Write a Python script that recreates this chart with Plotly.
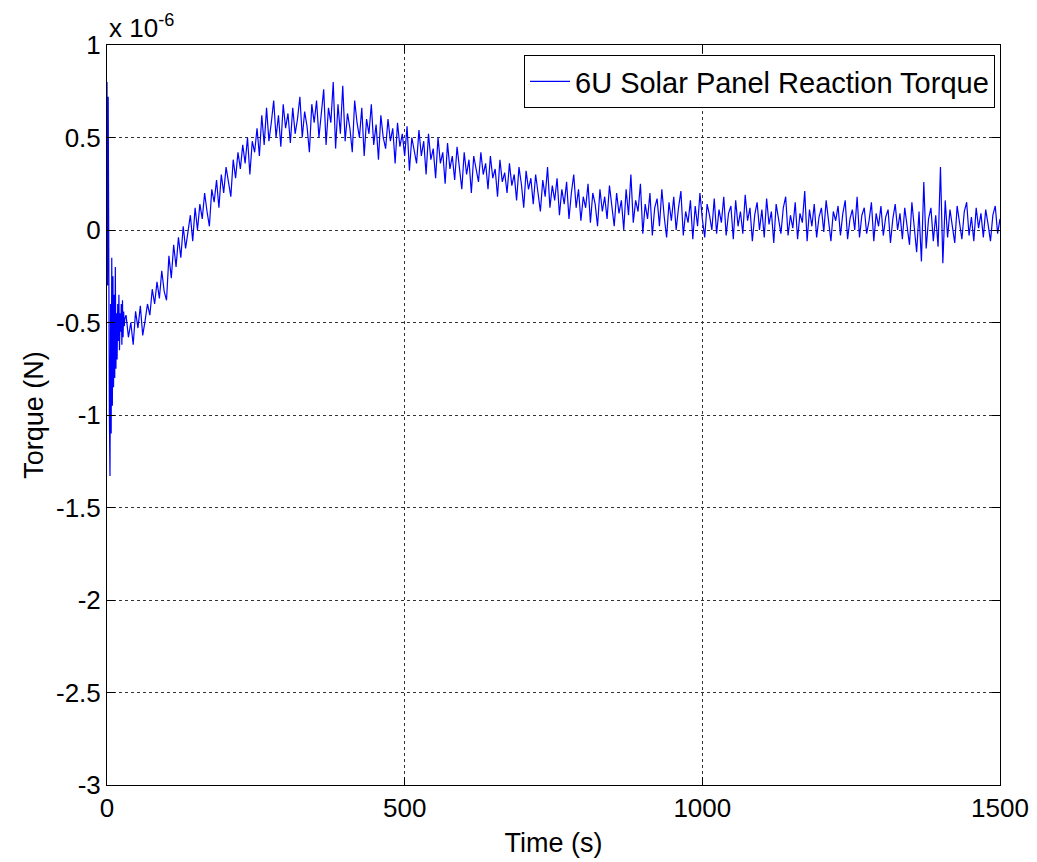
import plotly.graph_objects as go

# Time (s): dense start (1 s), then 4 s steps; torque in units of 1e-6 N
t_start = list(range(0, 31))
torque_start = [0.80, -0.30, 0.72, -0.60, -1.00, -1.33, -0.40, -1.10, -0.15, -0.95,
                -0.25, -0.85, -0.35, -0.80, -0.20, -0.75, -0.45, -0.70, -0.40, -0.60,
                -0.35, -0.65, -0.45, -0.55, -0.40, -0.62, -0.38, -0.58, -0.44, -0.52,
                -0.48]

t_main = list(range(32, 1501, 4))
torque_main = [
    -0.46, -0.58, -0.50, -0.62, -0.44, -0.53, -0.41, -0.57, -0.49, -0.40,
    -0.46, -0.32, -0.40, -0.28, -0.37, -0.22, -0.33, -0.38, -0.14, -0.26,
    -0.08, -0.20, -0.04, -0.15, 0.02, -0.10, -0.01, 0.08, -0.06, 0.12,
    0.00, 0.14, 0.06, 0.20, 0.10, 0.02, 0.22, 0.15, 0.27, 0.12,
    0.30, 0.20, 0.34, 0.25, 0.18, 0.38, 0.28, 0.42, 0.33, 0.46,
    0.36, 0.50, 0.30, 0.48, 0.42, 0.55, 0.40, 0.62, 0.46, 0.66,
    0.48, 0.58, 0.70, 0.50, 0.62, 0.45, 0.68, 0.55, 0.63, 0.47,
    0.66, 0.52, 0.60, 0.72, 0.50, 0.64, 0.56, 0.42, 0.68, 0.58,
    0.70, 0.50, 0.62, 0.76, 0.46, 0.66, 0.58, 0.80, 0.44, 0.68,
    0.52, 0.78, 0.48, 0.63, 0.55, 0.42, 0.70, 0.58, 0.50, 0.66,
    0.40, 0.60, 0.52, 0.68, 0.46, 0.57, 0.38, 0.62, 0.50, 0.44,
    0.60, 0.48, 0.55, 0.36, 0.58, 0.45, 0.52, 0.40, 0.56, 0.32,
    0.50, 0.42, 0.36, 0.54, 0.40, 0.48, 0.30, 0.52, 0.38, 0.44,
    0.28, 0.50, 0.36, 0.42, 0.25, 0.47, 0.33, 0.40, 0.27, 0.45,
    0.34, 0.22, 0.42, 0.30, 0.38, 0.20, 0.40, 0.32, 0.26, 0.42,
    0.30, 0.36, 0.22, 0.40, 0.28, 0.33, 0.18, 0.38, 0.26, 0.31,
    0.20, 0.36, 0.24, 0.30, 0.16, 0.34, 0.25, 0.12, 0.32, 0.22,
    0.28, 0.14, 0.30, 0.20, 0.10, 0.27, 0.18, 0.34, 0.12, 0.24,
    0.16, 0.28, 0.08, 0.22, 0.14, 0.26, 0.06, 0.20, 0.30, 0.12,
    0.22, 0.05, 0.18, 0.12, 0.25, 0.04, 0.20, 0.14, 0.02, 0.22,
    0.10, 0.18, 0.06, 0.24, 0.12, 0.02, 0.20, 0.09, 0.16, 0.00,
    0.22, 0.08, 0.30, 0.04, 0.16, 0.10, 0.25, -0.02, 0.14, 0.06,
    0.20, -0.03, 0.12, 0.17, 0.02, 0.22, 0.07, -0.04, 0.15, 0.05,
    0.18, 0.00, 0.12, 0.21, -0.03, 0.10, 0.04, 0.16, -0.05, 0.13,
    0.02, 0.20, 0.06, -0.04, 0.14, 0.08, 0.00, 0.17, -0.02, 0.11,
    0.04, 0.18, -0.03, 0.09, 0.13, -0.05, 0.16, 0.02, 0.10, -0.02,
    0.19, 0.05, 0.12, -0.06, 0.08, 0.15, 0.00, 0.11, -0.04, 0.17,
    0.03, 0.10, -0.07, 0.14, 0.06, -0.02, 0.12, 0.18, -0.03, 0.08,
    0.01, 0.15, -0.05, 0.09, 0.04, 0.21, -0.06, 0.11, 0.02, 0.14,
    -0.04, 0.07, 0.12, -0.01, 0.16, 0.03, -0.06, 0.10, 0.05, 0.13,
    -0.03, 0.09, 0.16, -0.05, 0.06, 0.11, 0.00, 0.18, -0.04, 0.08,
    0.12, -0.02, 0.05, 0.15, -0.06, 0.09, 0.02, 0.13, -0.03, 0.07,
    0.11, -0.07, 0.06, 0.14, 0.00, 0.09, -0.05, 0.12, 0.03, -0.08,
    0.15, 0.02, -0.12, 0.10, -0.17, 0.26, -0.10, 0.06, 0.12, -0.06,
    0.08, -0.09, 0.34, -0.18, 0.16, -0.04, 0.11, 0.02, -0.07, 0.13,
    0.04, -0.05, 0.10, 0.15, -0.03, 0.07, -0.06, 0.12, 0.01, 0.09,
    -0.04, 0.11, 0.03, -0.06, 0.08, 0.13, -0.02, 0.06,
]

time_s = t_start + t_main
torque_e6 = torque_start + torque_main
assert len(t_main) == len(torque_main)

x_ticks = [0, 500, 1000, 1500]
y_ticks = [1, 0.5, 0, -0.5, -1, -1.5, -2, -2.5, -3]
y_tick_text = ["1", "0.5", "0", "-0.5", "-1", "-1.5", "-2", "-2.5", "-3"]

font_family = "Liberation Sans, Arial, sans-serif"

fig = go.Figure()
fig.add_trace(go.Scatter(
    x=time_s, y=torque_e6, mode="lines",
    line=dict(color="#0000ff", width=1.2),
    name="6U Solar Panel Reaction Torque",
))

axis_common = dict(
    showline=True, linecolor="black", linewidth=1, mirror="ticks",
    ticks="inside", ticklen=8, tickcolor="black",
    showgrid=True, gridcolor="#333333", griddash="dot", gridwidth=1,
    zeroline=False, automargin=False,
    tickfont=dict(family=font_family, size=26, color="black"),
)

fig.update_layout(
    width=1037, height=862,
    margin=dict(l=107, r=37, t=45, b=77),
    paper_bgcolor="white", plot_bgcolor="white",
    font=dict(family=font_family, color="black"),
    xaxis=dict(range=[0, 1500], tickvals=x_ticks, ticktext=[str(v) for v in x_ticks],
               title=dict(text="Time (s)", font=dict(size=27), standoff=10),
               **axis_common),
    yaxis=dict(range=[-3, 1], tickvals=y_ticks, ticktext=y_tick_text,
               title=dict(text="Torque (N)", font=dict(size=27), standoff=4),
               **axis_common),
    showlegend=True,
    legend=dict(x=0.9944, y=0.9865, xanchor="right", yanchor="top",
                bordercolor="black", borderwidth=1, bgcolor="white",
                itemwidth=40,
                font=dict(size=29, family=font_family, color="black")),
    annotations=[dict(text="x 10<sup>-6</sup>", xref="paper", yref="paper",
                      x=0, y=1, xanchor="left", yanchor="bottom", showarrow=False,
                      font=dict(size=26, family=font_family, color="black"), yshift=0)],
)

fig.write_html("out.html")
